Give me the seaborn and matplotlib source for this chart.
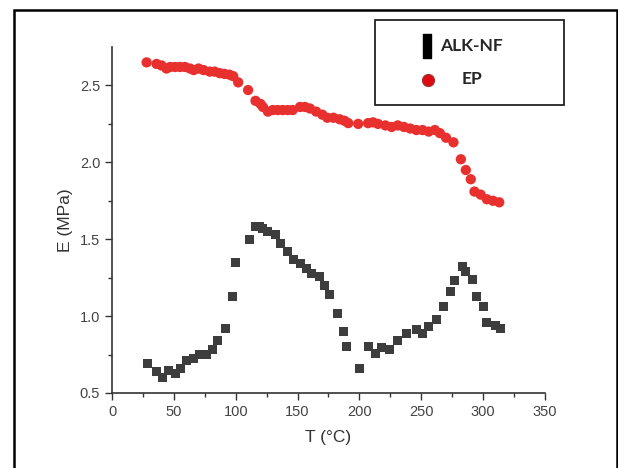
import numpy as np
import pandas as pd
import seaborn as sns
import matplotlib.pyplot as plt
from matplotlib.lines import Line2D
from matplotlib.patches import Rectangle

sns.set_style('white')
plt.rcParams['font.family'] = ['Liberation Sans', 'DejaVu Sans']

# ALK-NF (squares)
alk_t = [29, 36, 41, 46, 51, 55, 60, 66, 71, 76,
         81, 85, 92, 97, 100, 111, 116, 119, 122, 126,
         132, 136, 142, 147, 152, 157, 161, 168, 172, 176,
         182, 187.5, 189.5, 200, 207, 213, 218, 224, 231, 238,
         246, 251, 256, 262, 268, 274, 277, 283, 286, 291,
         295, 300, 303, 310, 314]
alk_e = [0.69, 0.64, 0.60, 0.645, 0.63, 0.66, 0.71, 0.725, 0.75, 0.75,
         0.78, 0.84, 0.92, 1.13, 1.35, 1.50, 1.58, 1.58, 1.57, 1.55,
         1.53, 1.47, 1.42, 1.37, 1.34, 1.31, 1.28, 1.26, 1.20, 1.14,
         1.02, 0.90, 0.80, 0.66, 0.80, 0.76, 0.795, 0.78, 0.84, 0.89,
         0.91, 0.89, 0.93, 0.98, 1.065, 1.16, 1.23, 1.32, 1.29, 1.24,
         1.13, 1.06, 0.96, 0.94, 0.92]

# EP (circles)
ep_t = [28, 36, 40, 44, 47, 51, 55, 59, 63, 66,
        70, 74, 79, 83, 87, 91, 95, 98, 102, 110,
        116, 120, 122, 126, 130, 134, 138, 142, 146, 152,
        156, 160, 165, 170, 174, 179, 184, 188, 191, 199,
        207, 211, 215, 221, 226, 231, 236, 241, 246, 251,
        256, 261, 265, 270, 276, 282, 286, 290, 293, 298,
        303, 308, 313]
ep_e = [2.65, 2.64, 2.63, 2.61, 2.62, 2.62, 2.62, 2.62, 2.61, 2.60,
        2.61, 2.60, 2.59, 2.59, 2.58, 2.575, 2.57, 2.56, 2.52, 2.47,
        2.40, 2.38, 2.36, 2.33, 2.34, 2.34, 2.34, 2.34, 2.34, 2.36,
        2.36, 2.35, 2.33, 2.31, 2.29, 2.29, 2.28, 2.27, 2.255, 2.25,
        2.255, 2.26, 2.25, 2.24, 2.23, 2.24, 2.23, 2.22, 2.21, 2.21,
        2.20, 2.21, 2.19, 2.16, 2.13, 2.02, 1.95, 1.89, 1.81, 1.79,
        1.76, 1.75, 1.74]

alk = pd.DataFrame({'T': alk_t, 'E': alk_e})
ep = pd.DataFrame({'T': ep_t, 'E': ep_e})

fig = plt.figure(figsize=(6.18, 4.68), dpi=100)
ax = fig.add_axes([112/618, 75/468, 433/618, 346/468])

sns.scatterplot(data=alk, x='T', y='E', marker='s', s=42, color='#3d3d3d',
                edgecolor='none', ax=ax)
sns.scatterplot(data=ep, x='T', y='E', marker='o', s=55, color='#e8302f',
                edgecolor='none', ax=ax)

ax.set_xlim(0, 350)
ax.set_ylim(0.5, 2.75)
ax.set_xticks(np.arange(0, 351, 50))
ax.set_xticks(np.arange(25, 351, 50), minor=True)
ax.set_yticks([0.5, 1.0, 1.5, 2.0, 2.5])
ax.set_yticks([0.75, 1.25, 1.75, 2.25], minor=True)
ax.set_xlabel('T (°C)', fontsize=12.5, color='#333333', labelpad=8)
ax.set_ylabel('E (MPa)', fontsize=12.5, color='#333333', labelpad=5)

for side in ['top', 'right']:
    ax.spines[side].set_visible(False)
for side in ['left', 'bottom']:
    ax.spines[side].set_color('#333333')
    ax.spines[side].set_linewidth(1.2)
ax.tick_params(which='major', direction='out', length=5, width=1,
               color='#333333', labelsize=10.5, labelcolor='#444444',
               bottom=True, left=True)
ax.tick_params(which='minor', direction='out', length=3, width=1,
               color='#333333', bottom=True, left=True)

# legend box, drawn by hand in figure pixels
W, H = 618, 468
fig.patches.append(Rectangle((375/W, 1 - 105/H), 189/W, 85/H,
                             transform=fig.transFigure, fill=False,
                             edgecolor='#222222', linewidth=1.3))
rect_marker = [(-0.35, -1), (0.35, -1), (0.35, 1), (-0.35, 1), (-0.35, -1)]
fig.add_artist(Line2D([427/W], [1 - 46/H], ls='none', marker=rect_marker,
                      markersize=17, color='black',
                      transform=fig.transFigure))
fig.add_artist(Line2D([428/W], [1 - 80/H], ls='none', marker='o',
                      markersize=8.5, color='#e00a10',
                      markeredgecolor='#a03030', markeredgewidth=1,
                      transform=fig.transFigure))
leg_font = {'family': ['Lato', 'DejaVu Sans'], 'weight': 'bold',
            'size': 12.5}
fig.text(440/W, 1 - 46/H, 'ALK-NF', va='center', ha='left', **leg_font)
fig.text(462/W, 1 - 79/H, 'EP', va='center', ha='left', **leg_font)

# outer frame
fig.patches.append(Rectangle((14/W, -0.05), 603/W, 1.05 - 10/H,
                             transform=fig.transFigure, fill=False,
                             edgecolor='black', linewidth=1.8))

fig.savefig('out.png', dpi=100)
